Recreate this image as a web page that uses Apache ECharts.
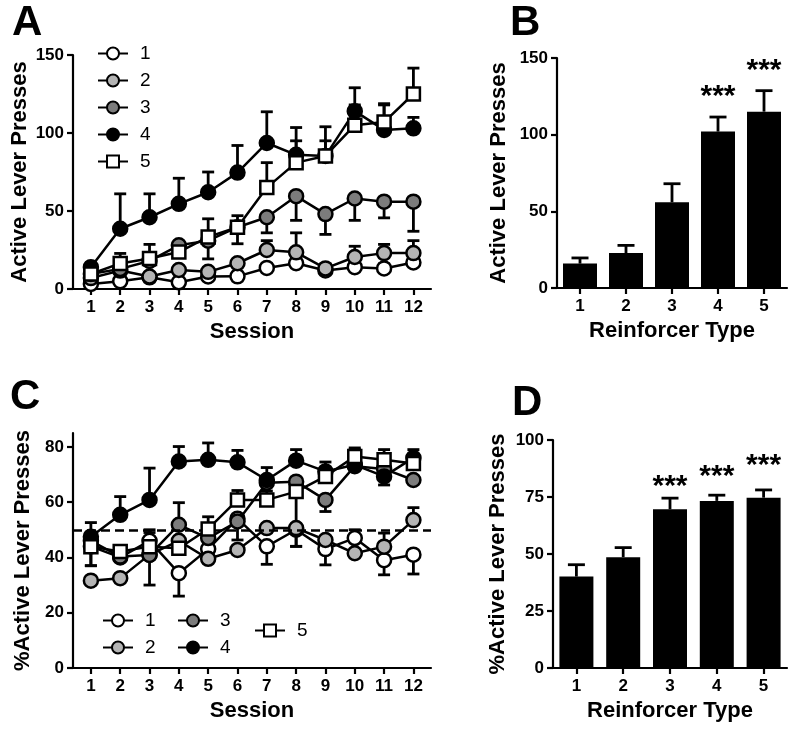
<!DOCTYPE html>
<html><head><meta charset="utf-8">
<script src="https://cdn.jsdelivr.net/npm/echarts@6/dist/echarts.min.js"></script>
<style>html,body{margin:0;padding:0;background:#fff}#c{width:795px;height:734px}</style>
</head><body><div id="c"></div>
<script>
const sessions = [1,2,3,4,5,6,7,8,9,10,11,12];
const groups = ['1','2','3','4','5'];
const reinforcerTypes = ['1','2','3','4','5'];

// Panel A: active lever presses by session (mean, error-bar end)
const a1 = [3.2, 5, 7.5, 4.3, 8, 8.1, 13.5, 16.5, 11.9, 14, 13.2, 17];
const a1Err = [3.2, 5, 7.5, 4.3, 8, 8.1, 16, 20, 11.9, 17, 16, 21];
const a2 = [7, 11.8, 8, 12.2, 11, 16.5, 25, 23.5, 13.2, 20.5, 23, 23];
const a2Err = [7, 11.8, 8, 12.2, 11, 16.5, 31, 36, 16, 27.4, 28.6, 31];
const a3 = [9.6, 12.9, 18, 28, 31, 39.6, 46, 59.5, 48, 58, 56, 56];
const a3Err = [9.6, 12.9, 15, 22, 19.3, 29, 36, 44, 35, 44, 45.6, 37];
const a4 = [14, 38.6, 46, 54.6, 62, 74.6, 93.6, 86, 85.3, 114, 102, 103];
const a4Err = [16, 61, 61, 71, 75, 92, 113.6, 103.5, 104, 129, 118, 110];
const a5 = [9.6, 16.4, 19.6, 23.7, 33.4, 39.6, 65, 81, 85.3, 105, 107, 125];
const a5Err = [11, 22.8, 28.6, 28, 45, 47, 81, 95, 95, 118, 118.8, 141.6];

// Panel B
const bVals = [15.9, 22.8, 55.9, 102, 115];
const bErr = [19.6, 27.8, 68, 111.5, 128.7];
const bStarY = [null, null, null, 128, 145];

// Panel C: % active lever presses by session
const c1 = [44, 40, 46, 34.3, 43, 54, 44, 50, 43, 47, 39, 41];
const c1Err = [44, 40, 50, 26, 43, 46.3, 37.5, 50, 37.3, 50, 33.7, 34];
const c2 = [31.6, 32.5, 41, 46, 39.5, 42.7, 50.6, 50.6, 46.3, 41.5, 43.9, 53.5];
const c2Err = [31.6, 32.5, 41, 46, 39.5, 42.7, 50.6, 44, 46.3, 41.5, 48.8, 58];
const c3 = [46, 40.3, 40.9, 51.8, 47, 53, 67, 67.4, 60.8, 73, 72, 68];
const c3Err = [37, 40.3, 30, 59.8, 47, 53, 67, 67.4, 56.6, 73, 72, 68];
const c4 = [47.5, 55.4, 60.8, 74.7, 75.3, 74.4, 68, 75, 71.1, 73.5, 69.3, 76];
const c4Err = [52.6, 62, 72.3, 80.1, 81.4, 78.7, 72.5, 79, 74.5, 79, 66.2, 79];
const c5 = [43.9, 42.1, 43.9, 43.3, 50.3, 60.8, 60.8, 63.8, 69.3, 76.5, 75.3, 74];
const c5Err = [37, 42.1, 49, 43.3, 54.7, 64.2, 64, 44, 72, 79.6, 79, 77];
const chanceLevel = 50;

// Panel D
const dVals = [40.1, 48.6, 69.6, 73.3, 74.7];
const dErr = [45.3, 52.8, 74.5, 75.8, 78.1];
const dStarY = [null, null, 81.5, 86, 91];

const yTicksA = [0, 50, 100, 150];
const yTicksC = [0, 20, 40, 60, 80];
const yTicksD = [0, 25, 50, 75, 100];

const FONT = "'Liberation Sans', Arial, sans-serif";
const fills = ['#ffffff', '#b4b4b4', '#7c7c7c', '#000000', '#ffffff'];
const symbols = ['circle', 'circle', 'circle', 'circle', 'rect'];

const chart = echarts.init(document.getElementById('c'), null, {renderer: 'canvas'});

function errRender(capW) {
  return function (params, api) {
    const x = api.value(0), v = api.value(1), e = api.value(2);
    const p0 = api.coord([x, v]), p1 = api.coord([x, e]);
    if (Math.abs(p0[1] - p1[1]) < 0.5) return null;
    const st = {stroke: '#000', lineWidth: 2.8};
    return {type: 'group', children: [
      {type: 'line', shape: {x1: p0[0], y1: p0[1], x2: p1[0], y2: p1[1]}, style: st},
      {type: 'line', shape: {x1: p1[0] - capW / 2, y1: p1[1], x2: p1[0] + capW / 2, y2: p1[1]}, style: st}
    ]};
  };
}

const axisLineStyle = {lineStyle: {color: '#000', width: 2.2}};
const tickStyle = {show: true, length: 6, lineStyle: {color: '#000', width: 2.2}};
const labelStyle = {color: '#000', fontFamily: FONT, fontWeight: 'bold', fontSize: 17};
const nameStyle = {color: '#000', fontFamily: FONT, fontWeight: 'bold', fontSize: 22};

function sessionAxis(gi) {
  return {
    type: 'value', gridIndex: gi, min: 0.39, max: 12.6,
    name: 'Session', nameLocation: 'middle', nameGap: 32, nameTextStyle: nameStyle,
    axisLine: axisLineStyle,
    axisTick: Object.assign({}, tickStyle, {customValues: sessions}),
    axisLabel: Object.assign({}, labelStyle, {margin: 10, customValues: sessions}),
    splitLine: {show: false}
  };
}
function typeAxis(gi) {
  return {
    type: 'category', gridIndex: gi, data: reinforcerTypes,
    name: 'Reinforcer Type', nameLocation: 'middle', nameGap: 32, nameTextStyle: nameStyle,
    axisLine: axisLineStyle,
    axisTick: Object.assign({}, tickStyle, {alignWithLabel: true}),
    axisLabel: Object.assign({}, labelStyle, {margin: 10}),
    splitLine: {show: false}
  };
}
function yAxis(gi, name, max, ticks, gap) {
  return {
    type: 'value', gridIndex: gi, min: 0, max: max,
    name: name, nameLocation: 'middle', nameGap: gap, nameTextStyle: nameStyle,
    axisLine: Object.assign({show: true}, axisLineStyle),
    axisTick: Object.assign({}, tickStyle, {customValues: ticks}),
    axisLabel: Object.assign({}, labelStyle, {margin: 9, customValues: ticks}),
    splitLine: {show: false}
  };
}

const aVals = [a1, a2, a3, a4, a5], aErrs = [a1Err, a2Err, a3Err, a4Err, a5Err];
const cVals = [c1, c2, c3, c4, c5], cErrs = [c1Err, c2Err, c3Err, c4Err, c5Err];

const series = [];
function addLineGroup(vals, errs, gi) {
  vals.forEach((arr, k) => {
    series.push({
      type: 'custom', xAxisIndex: gi, yAxisIndex: gi, z: 1, silent: true,
      renderItem: errRender(12),
      data: sessions.map((s, i) => [s, arr[i], errs[k][i]])
    });
  });
  vals.forEach((arr, k) => {
    const s = {
      type: 'line', name: groups[k], xAxisIndex: gi, yAxisIndex: gi, z: 2 + k,
      symbol: symbols[k], symbolSize: k === 4 ? 13 : 14,
      lineStyle: {color: '#000', width: 2.5},
      itemStyle: {color: fills[k], borderColor: '#000', borderWidth: 2.5},
      data: sessions.map((s, i) => [s, arr[i]])
    };
    if (gi === 2 && k === 4) {
      s.markLine = {
        silent: true, symbol: 'none', label: {show: false}, animation: false,
        lineStyle: {color: '#000', width: 2.6, type: [9, 5]},
        data: [{yAxis: chanceLevel}]
      };
    }
    series.push(s);
  });
}
addLineGroup(aVals, aErrs, 0);
addLineGroup(cVals, cErrs, 2);

function addBarGroup(vals, errs, starY, gi) {
  series.push({
    type: 'bar', xAxisIndex: gi, yAxisIndex: gi, barWidth: 34, z: 2,
    itemStyle: {color: '#000'}, data: vals
  });
  series.push({
    type: 'custom', xAxisIndex: gi, yAxisIndex: gi, z: 1, silent: true,
    renderItem: errRender(17),
    data: vals.map((v, i) => [i, v, errs[i]])
  });
  series.push({
    type: 'scatter', xAxisIndex: gi, yAxisIndex: gi, symbolSize: 0, silent: true, z: 5,
    itemStyle: {color: '#000'},
    label: {show: true, position: 'inside', formatter: '***', offset: [0, 5],
      color: '#000', opacity: 1, fontFamily: FONT, fontWeight: 'bold', fontSize: 30,
      textBorderWidth: 0},
    data: starY.map((y, i) => y == null ? null : [i, y]).filter(d => d)
  });
}
addBarGroup(bVals, bErr, bStarY, 1);
addBarGroup(dVals, dErr, dStarY, 3);

const legendText = {color: '#000', fontFamily: FONT, fontSize: 19, padding: [0, 0, 0, 7]};
function legend(names, left, top) {
  return {
    data: names, orient: 'vertical', left: left, top: top,
    itemWidth: 30, itemHeight: 15, itemGap: 8, selectedMode: false,
    textStyle: legendText
  };
}

const option = {
  animation: false,
  backgroundColor: '#fff',
  grid: [
    {left: 73, top: 55, width: 358, height: 234},
    {left: 557, top: 58, width: 230, height: 230},
    {left: 73, top: 433, width: 358, height: 235},
    {left: 553, top: 440, width: 234, height: 228}
  ],
  xAxis: [sessionAxis(0), typeAxis(1), sessionAxis(2), typeAxis(3)],
  yAxis: [
    yAxis(0, 'Active Lever Presses', 150, yTicksA, 42),
    yAxis(1, 'Active Lever Presses', 150, yTicksA, 47),
    yAxis(2, '%Active Lever Presses', 85, yTicksC, 39),
    yAxis(3, '%Active Lever Presses', 100, yTicksD, 44)
  ],
  legend: [
    legend(groups, 92, 39),
    legend(['1', '2'], 97, 606),
    legend(['3', '4'], 172, 606),
    legend(['5'], 249, 616)
  ],
  graphic: [
    {type: 'text', left: 12, top: 2, style: {text: 'A', font: "bold 42px " + FONT, fill: '#000'}},
    {type: 'text', left: 510, top: 2, style: {text: 'B', font: "bold 42px " + FONT, fill: '#000'}},
    {type: 'text', left: 10, top: 376, style: {text: 'C', font: "bold 42px " + FONT, fill: '#000'}},
    {type: 'text', left: 512, top: 382, style: {text: 'D', font: "bold 42px " + FONT, fill: '#000'}}
  ],
  series: series
};
chart.setOption(option);
</script></body></html>
